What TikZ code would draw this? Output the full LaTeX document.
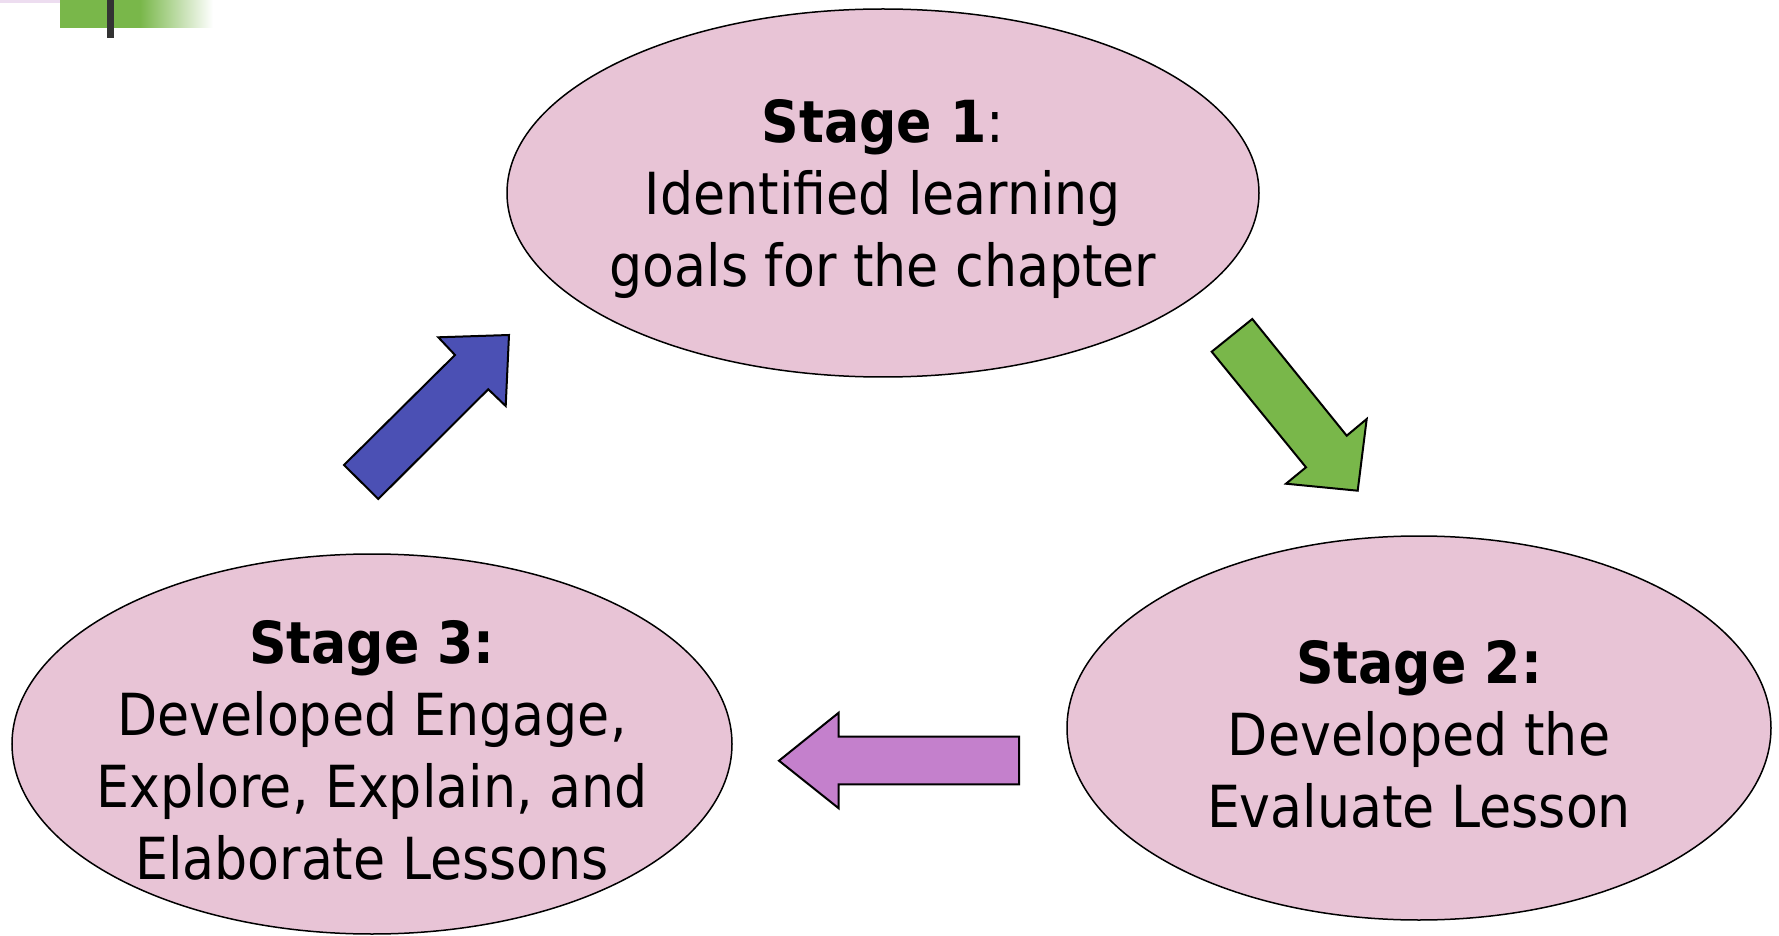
\documentclass[tikz,border=0pt]{standalone}
\usepackage{fontspec}
\setmainfont{DejaVu Sans Condensed}
\usepackage{xcolor}
\usepackage{tikz}
\usetikzlibrary{shapes.geometric,calc}

\definecolor{stagepink}{HTML}{E8C4D6}
\definecolor{arrowgreen}{HTML}{79B74A}
\definecolor{arrowblue}{HTML}{4B50B4}
\definecolor{arrowpurple}{HTML}{C480CC}
\definecolor{bardark}{HTML}{333333}
\definecolor{barlavender}{HTML}{EDDDF0}

\tikzset{
    stage/.style={ellipse, draw=black, line width=0.75pt, fill=stagepink, inner sep=0pt},
    stagetext/.style={align=center, yshift=-3pt, font=\fontsize{29}{36}\selectfont},
    blockarrow/.style={draw=black, line width=1pt, line join=miter}
}

\begin{document}
\begin{tikzpicture}[x=0.5pt, y=-0.5pt]
    \useasboundingbox (0,0) rectangle (1779,936);

    % corner mark
    \fill[barlavender] (0,0) rectangle (92,3);
    \fill[arrowgreen] (60,0) rectangle (141,28);
    \shade[left color=arrowgreen, right color=white] (140,0) rectangle (213,28);
    \fill[bardark] (107,0) rectangle (114,38);

    \node[stage, minimum width=376pt, minimum height=184pt] (stage1) at (883,193) {};
    \node[stagetext] at (stage1.center) {\textbf{Stage 1}:\\Identified learning\\goals for the chapter};

    \node[stage, minimum width=352pt, minimum height=192pt] (stage2) at (1419,728) {};
    \node[stagetext] at (stage2.center) {\textbf{Stage 2:}\\Developed the\\Evaluate Lesson};

    \node[stage, minimum width=360pt, minimum height=190pt] (stage3) at (372,744) {};
    \node[stagetext] at (stage3.center) {\textbf{Stage 3:}\\Developed Engage,\\Explore, Explain, and\\Elaborate Lessons};

    % stage 1 to stage 2
    \filldraw[blockarrow, fill=arrowgreen] (1211.7,351.7) -- (1252.3,319) -- (1346.7,435.7) -- (1366.7,419)
        -- (1357.7,490.7) -- (1286,483.7) -- (1306,467.3) -- cycle;
    % stage 2 to stage 3
    \filldraw[blockarrow, fill=arrowpurple] (1019,736.7) -- (838.7,736.7) -- (838.7,712.7) -- (779,760.7)
        -- (838.7,808.3) -- (838.7,784.3) -- (1019,784.3) -- cycle;
    % stage 3 to stage 1
    \filldraw[blockarrow, fill=arrowblue] (344,465) -- (455,355) -- (438.3,337.3) -- (509,335)
        -- (505.7,406) -- (488.3,389.3) -- (378.3,499) -- cycle;
\end{tikzpicture}
\end{document}
